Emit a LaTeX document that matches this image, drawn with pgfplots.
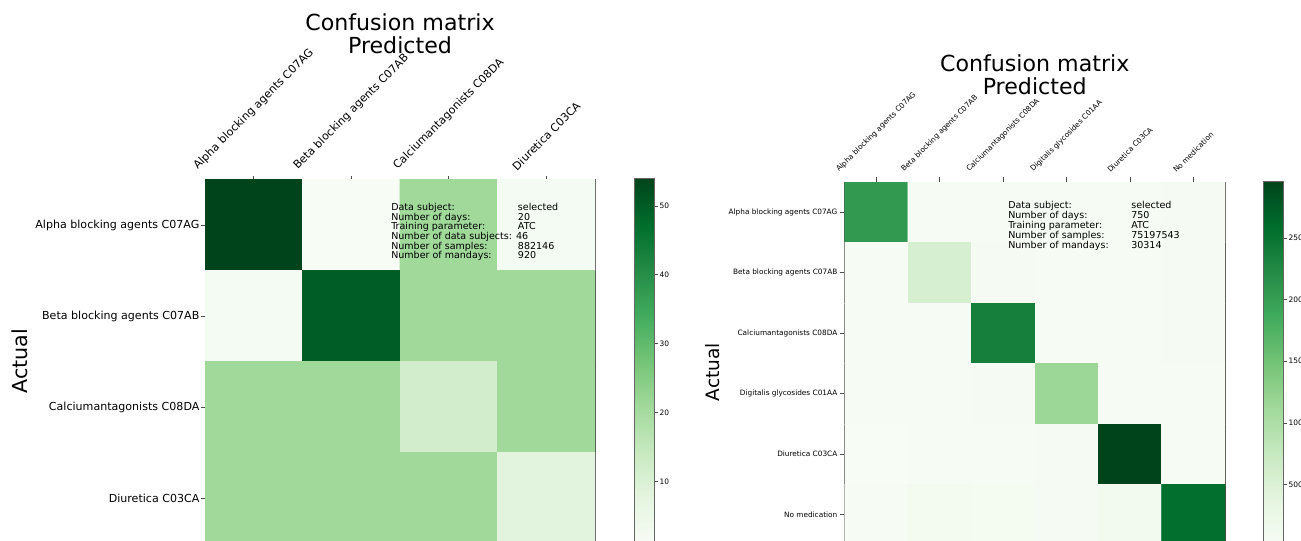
\documentclass[border=0pt]{standalone}
\usepackage{fontspec}
\setmainfont{DejaVu Sans}
\usepackage{graphicx}
\usepackage{pgfplots}
\pgfplotsset{compat=1.18}
\pgfplotsset{
  colormap={mpgreens}{rgb255=(247,252,245) rgb255=(229,245,224) rgb255=(199,233,192) rgb255=(161,217,155) rgb255=(116,196,118) rgb255=(65,171,93) rgb255=(35,139,69) rgb255=(0,109,44) rgb255=(0,68,27)},
  /pgf/number format/assume math mode=true,
  /pgf/number format/1000 sep={},
}
\usepackage{pgfplotstable}

\pgfplotstableread{
x y z
0 0 54
1 0 1
2 0 21
3 0 2
0 1 2
1 1 50
2 1 21
3 1 21
0 2 21
1 2 21
2 2 12
3 2 21
0 3 21
1 3 21
2 3 21
3 3 8
}\leftdata

\pgfplotstableread{
x y z
0 0 2050
1 0 40
2 0 30
3 0 35
4 0 40
5 0 45
0 1 30
1 1 560
2 1 50
3 1 40
4 1 35
5 1 45
0 2 35
1 2 40
2 2 2370
3 2 30
4 2 40
5 2 60
0 3 30
1 3 35
2 3 45
3 3 1150
4 3 30
5 3 35
0 4 10
1 4 40
2 4 35
3 4 50
4 4 2962
5 4 40
0 5 40
1 5 90
2 5 80
3 5 60
4 5 110
5 5 2570
}\rightdata

\begin{document}
\begin{tikzpicture}
% ---------------- left matrix ----------------
\begin{axis}[
  at={({205*0.75pt},{-179.5*0.75pt})}, anchor=north west,
  scale only axis, width=292.5pt, height=273pt,
  xmin=-0.5, xmax=3.5, ymin=-0.5, ymax=3.5, y dir=reverse,
  xtick={0,1,2,3}, ytick={0,1,2,3},
  xticklabels={\rotatebox{45}{Alpha blocking agents C07AG},\rotatebox{45}{Beta blocking agents C07AB},\rotatebox{45}{Calciumantagonists C08DA},\rotatebox{45}{Diuretica C03CA}},
  yticklabels={Alpha blocking agents C07AG,Beta blocking agents C07AB,Calciumantagonists C08DA,Diuretica C03CA},
  xticklabel pos=upper, xtick pos=upper, ytick pos=left,
  tick align=outside, major tick length=3pt,
  tick style={black!70, line width=0.5pt},
  xticklabel style={anchor=south, inner sep=0pt, yshift=3pt, font=\fontsize{8.3}{9}\selectfont},
  yticklabel style={anchor=east, inner sep=0pt, xshift=-1pt, font=\fontsize{8.3}{9}\selectfont},
  axis line style={black!70, line width=0.6pt},
  colormap name=mpgreens, point meta min=1, point meta max=54,
  colorbar,
  colorbar style={
    at={(parent axis.north east)}, anchor=north west, xshift=21pt, yshift=0.9pt,
    scale only axis, width=15pt, height=273.75pt,
    ytick={10,20,30,40,50},
    yticklabel pos=right, ytick pos=right, tick align=outside, major tick length=2.5pt,
    yticklabel style={font=\fontsize{5.6}{6}\selectfont, inner sep=0pt, xshift=1.3pt, /pgf/number format/1000 sep={}},
    axis line style={black!60, line width=0.5pt},
    tick style={black!70, line width=0.4pt},
  },
]
\addplot[matrix plot*, mesh/cols=4, point meta=explicit] table[meta=z] {\leftdata};
\end{axis}
% ---------------- right matrix ----------------
\begin{axis}[
  at={({844.5*0.75pt},{-182*0.75pt})}, anchor=north west,
  scale only axis, width=285.4pt, height=272.25pt,
  xmin=-0.5, xmax=5.5, ymin=-0.5, ymax=5.5, y dir=reverse,
  xtick={0,...,5}, ytick={0,...,5},
  xticklabels={\rotatebox{45}{Alpha blocking agents C07AG},\rotatebox{45}{Beta blocking agents C07AB},\rotatebox{45}{Calciumantagonists C08DA},\rotatebox{45}{Digitalis glycosides C01AA},\rotatebox{45}{Diuretica C03CA},\rotatebox{45}{No medication}},
  yticklabels={Alpha blocking agents C07AG,Beta blocking agents C07AB,Calciumantagonists C08DA,Digitalis glycosides C01AA,Diuretica C03CA,No medication},
  xticklabel pos=upper, xtick pos=upper, ytick pos=left,
  tick align=outside, major tick length=3.5pt,
  tick style={black!70, line width=0.5pt},
  xticklabel style={anchor=south, inner sep=0pt, yshift=3pt, font=\fontsize{5.5}{6}\selectfont},
  yticklabel style={anchor=east, inner sep=0pt, xshift=-1.7pt, font=\fontsize{5.5}{6}\selectfont},
  axis line style={black!70, line width=0.6pt},
  colormap name=mpgreens, point meta min=10, point meta max=2962,
  colorbar,
  colorbar style={
    at={(parent axis.north east)}, anchor=north west, xshift=20.2pt, yshift=0.75pt,
    scale only axis, width=15pt, height=273pt,
    ytick={500,1000,1500,2000,2500},
    yticklabel pos=right, ytick pos=right, tick align=outside, major tick length=2.5pt,
    yticklabel style={font=\fontsize{5.6}{6}\selectfont, inner sep=0pt, xshift=1.3pt, /pgf/number format/1000 sep={}},
    axis line style={black!60, line width=0.5pt},
    tick style={black!70, line width=0.4pt},
  },
]
\addplot[matrix plot*, mesh/cols=6, point meta=explicit] table[meta=z] {\rightdata};
\end{axis}
% ---------------- texts ----------------
\begin{scope}[x=0.75pt, y=-0.75pt]
  \node[anchor=base, inner sep=0pt, font=\fontsize{16.6}{18}\selectfont] at (400,30.7) {Confusion matrix};
  \node[anchor=base, inner sep=0pt, font=\fontsize{16.6}{18}\selectfont] at (400,54) {Predicted};
  \node[rotate=90, inner sep=0pt, font=\fontsize{15.5}{17}\selectfont] at (19.7,361) {Actual};
  \node[anchor=base, inner sep=0pt, font=\fontsize{16.6}{18}\selectfont] at (1034.7,71.5) {Confusion matrix};
  \node[anchor=base, inner sep=0pt, font=\fontsize{16.6}{18}\selectfont] at (1034.7,94.8) {Predicted};
  \node[rotate=90, inner sep=0pt, font=\fontsize{13.9}{15}\selectfont] at (713,372) {Actual};
  % left info
  \begin{scope}[every node/.style={anchor=base west, inner sep=0pt, font=\fontsize{7.15}{8}\selectfont}]
    \node at (391,210.5) {Data subject:};
    \node at (391,220.2) {Number of days:};
    \node at (391,229.9) {Training parameter:};
    \node at (391,239.6) {Number of data subjects: 46};
    \node at (391,249.3) {Number of samples:};
    \node at (391,259) {Number of mandays:};
    \node at (517.7,210.5) {selected};
    \node at (517.7,220.2) {20};
    \node at (517.7,229.9) {ATC};
    \node at (517.7,249.3) {882146};
    \node at (517.7,259) {920};
    % right info
    \node at (1008,208.5) {Data subject:};
    \node at (1008,218.5) {Number of days:};
    \node at (1008,228.5) {Training parameter:};
    \node at (1008,238.5) {Number of samples:};
    \node at (1008,248.5) {Number of mandays:};
    \node at (1131,208.5) {selected};
    \node at (1131,218.5) {750};
    \node at (1131,228.5) {ATC};
    \node at (1131,238.5) {75197543};
    \node at (1131,248.5) {30314};
  \end{scope}
  \pgfresetboundingbox
  \path[use as bounding box] (0,0) rectangle (1301,541);
\end{scope}
\end{tikzpicture}
\end{document}
